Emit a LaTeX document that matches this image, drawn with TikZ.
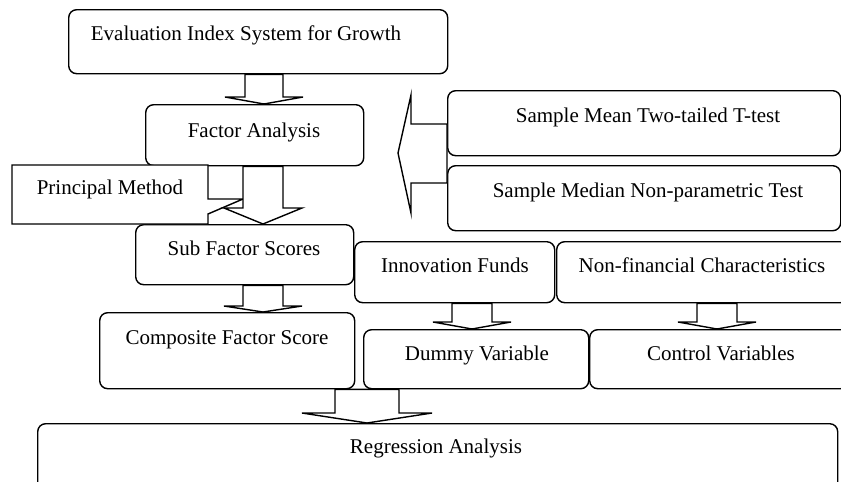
\documentclass[tikz,border=0pt]{standalone}
\usepackage{fontspec}
\setmainfont{Liberation Serif}
\usetikzlibrary{calc}

\tikzset{
  box/.style={draw, line width=1.4pt, rounded corners=8pt, fill=white,
              inner sep=0pt, anchor=north west},
  plainbox/.style={draw, line width=1.4pt, fill=white, line join=miter},
  lbl/.style={font=\fontsize{21}{25}\selectfont, inner sep=0pt, anchor=base},
  blockarrow/.style={draw, line width=1.4pt, fill=white, line join=miter}
}

% rounded box from its top-left (#2,#3) to bottom-right (#4,#5)
\newcommand\boxat[5]{%
  \node[box, minimum width=#4pt-#2pt, minimum height=#5pt-#3pt] (#1) at (#2,#3) {};}

% block arrow pointing down from node #1 to node #2:
% centre x #3, shaft half width #4, head half width #5, head length #6
\newcommand\bdown[6]{%
  \path[blockarrow] let \p1=(#1.south), \p2=(#2.north) in
    (#3pt-#4pt,\y1) -- (#3pt-#4pt,\y2+#6pt) -- (#3pt-#5pt,\y2+#6pt) --
    (#3pt,\y2) -- (#3pt+#5pt,\y2+#6pt) -- (#3pt+#4pt,\y2+#6pt) --
    (#3pt+#4pt,\y1) -- cycle;}

\begin{document}
\begin{tikzpicture}[x=1pt,y=-1pt]
\useasboundingbox (0,0) rectangle (841,482);

% boxes
\boxat{eval}{68}{9}{447}{73}
\boxat{fa}{145}{104}{363}{165}
\boxat{sfs}{135}{224}{353}{284}
\boxat{comp}{99}{312}{354}{388}
\boxat{smean}{447}{90}{840}{155}
\boxat{smed}{447}{165}{840}{230}
\boxat{innov}{354}{241}{554}{302}
\boxat{nonfin}{556}{241}{848}{302}
\boxat{dummy}{363}{329}{588}{388}
\boxat{control}{589}{329}{848}{388}
\boxat{regr}{37}{423}{837}{490}

% callout holding "Principal Method"
\path[plainbox] (12,165) -- (208,165) -- (208,199) -- (243,199) --
  (208,214) -- (208,224) -- (12,224) -- cycle;

% texts
\node[lbl] (evalT) at (246,40) {Evaluation Index System for Growth};
\node[lbl] (faT) at (254,137) {Factor Analysis};
\node[lbl] (pm) at (110,194) {Principal Method};
\node[lbl] (sfsT) at (244,255) {Sub Factor Scores};
\node[lbl] (compT) at (227,344) {Composite Factor Score};
\node[lbl] (smeanT) at (648,122) {Sample Mean Two-tailed T-test};
\node[lbl] (smedT) at (648,197) {Sample Median Non-parametric Test};
\node[lbl] (innovT) at (455,272) {Innovation Funds};
\node[lbl] (nonfinT) at (702,272) {Non-financial Characteristics};
\node[lbl] (dummyT) at (477,360) {Dummy Variable};
\node[lbl] (controlT) at (721,360) {Control Variables};
\node[lbl] (regrT) at (436,453) {Regression Analysis};

% downward block arrows
\bdown{eval}{fa}{264}{19}{39}{7}
\bdown{fa}{sfs}{263}{20}{39}{16}
\bdown{sfs}{comp}{263}{20}{39}{6}
\bdown{innov}{dummy}{472}{20}{39}{7}
\bdown{nonfin}{control}{717}{20}{39}{7}
\bdown{comp}{regr}{367}{32}{65}{10}

% leftward block arrow from the two tests
\coordinate (ltip) at (398,153);
\coordinate (lst) at (0,124);
\coordinate (lsb) at (0,183);
\coordinate (lht) at (411,95);
\coordinate (lhb) at (411,213);
\path[blockarrow] (smean.west |- lst) -- (lht |- lst) -- (lht) -- (ltip) --
  (lhb) -- (lhb |- lsb) -- (smed.west |- lsb) -- cycle;
\end{tikzpicture}
\end{document}
